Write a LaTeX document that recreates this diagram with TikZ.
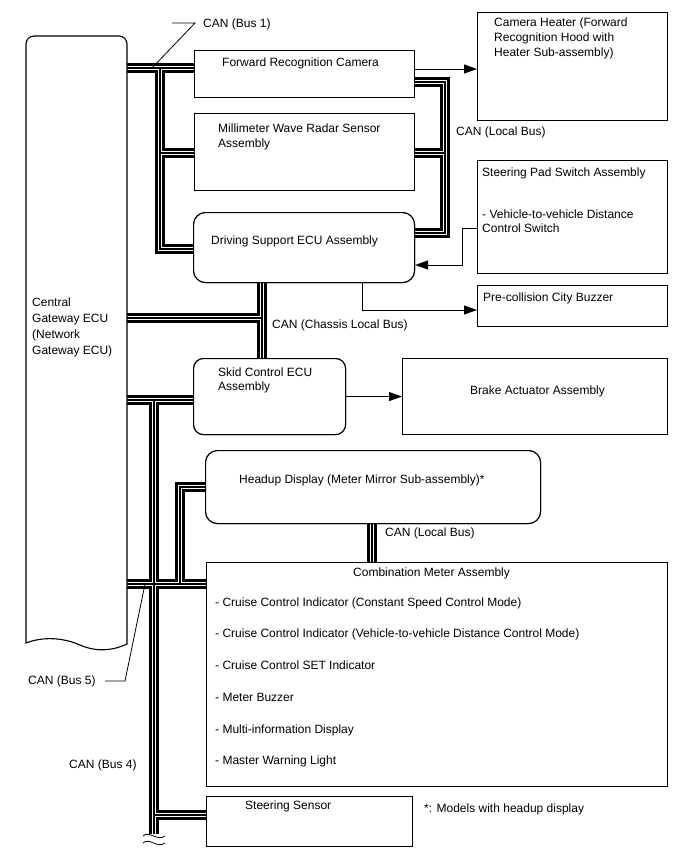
\documentclass[tikz,border=0pt]{standalone}
\usepackage{fontspec}
\setmainfont{Liberation Sans}
\usetikzlibrary{arrows.meta}
\newcommand\mylbl[4]{\node[txt] (#1) at (#2,#3) {#4};}
\begin{document}
\begin{tikzpicture}[x=1pt,y=-1pt,
  txt/.style={anchor=base west, inner sep=0pt, font=\fontsize{12}{14}\selectfont},
  box/.style={draw, line width=1.1pt, fill=white, anchor=north west, inner sep=0pt},
  rbox/.style={box, rounded corners=12pt},
  busA/.style={line width=9.5pt, black, line cap=butt},
  busB/.style={line width=4.5pt, white, line cap=butt},
  busC/.style={line width=1.2pt, black, line cap=butt},
  arr/.style={line width=0.9pt, -{Triangle[length=13pt,width=9pt]}},
  lead/.style={line width=0.8pt}]
\useasboundingbox (0,0) rectangle (688,852);
% frames for named anchors
\node[anchor=north west, minimum width=101pt, minimum height=608pt, inner sep=0pt] (gw) at (26,36) {};
\node[box, minimum width=220pt, minimum height=47pt] (fcam) at (194,50) {};
\node[box, minimum width=220pt, minimum height=77pt] (mmw) at (194,113) {};
\node[rbox, minimum width=221pt, minimum height=70pt] (dsecu) at (193,212) {};
\node[box, minimum width=190pt, minimum height=108pt] (heater) at (477,12) {};
\node[box, minimum width=190pt, minimum height=113pt] (spad) at (477,160) {};
\node[box, minimum width=190pt, minimum height=41pt] (pcb) at (477,285) {};
\node[rbox, rounded corners=10pt, minimum width=152pt, minimum height=76pt] (skid) at (193,358) {};
\node[box, minimum width=265pt, minimum height=76pt] (brake) at (402,358) {};
\node[rbox, minimum width=335pt, minimum height=73pt] (hud) at (205,450) {};
\node[box, minimum width=461pt, minimum height=224pt] (cmeter) at (206,562) {};
\node[box, minimum width=206pt, minimum height=50pt] (ssens) at (206,796) {};
% bus junction coordinates
\coordinate (b1) at (160,68);
\coordinate (b1m) at (160,153);
\coordinate (b1d) at (160,249);
\coordinate (lb) at (445,82);
\coordinate (lbm) at (445,153);
\coordinate (lbd) at (445,233);
\coordinate (cb) at (262,318);
\coordinate (b4) at (154,400);
\coordinate (b4s) at (154,815);
\coordinate (b4e) at (154,834);
\coordinate (b5) at (180,584);
\coordinate (b5h) at (180,487);
\coordinate (lb2) at (372,540);
\newcommand\buspaths{
  (gw.east |- b1) -- (fcam.west |- b1)
  (b1) -- (b1d) -- (dsecu.west |- b1d)
  (b1m) -- (mmw.west |- b1m)
  (fcam.east |- lb) -- (lb) -- (lbd) -- (dsecu.east |- lbd)
  (lbm) -- (mmw.east |- lbm)
  (dsecu.south -| cb) -- (skid.north -| cb)
  (gw.east |- cb) -- (cb)
  (gw.east |- b4) -- (skid.west |- b4)
  (b4) -- (b4e)
  (b4s) -- (ssens.west |- b4s)
  (gw.east |- b5) -- (cmeter.west |- b5)
  (b5) -- (b5h) -- (hud.west |- b5h)
  (hud.south -| lb2) -- (cmeter.north -| lb2)
}
\draw[busA] \buspaths;
\draw[busB] \buspaths;
\draw[busC] \buspaths;
% redraw boxes on top of bus ends
\node[box, minimum width=220pt, minimum height=47pt] at (194,50) {};
\node[box, minimum width=220pt, minimum height=77pt] at (194,113) {};
\node[rbox, minimum width=221pt, minimum height=70pt] at (193,212) {};
\node[rbox, rounded corners=10pt, minimum width=152pt, minimum height=76pt] at (193,358) {};
\node[rbox, minimum width=335pt, minimum height=73pt] at (205,450) {};
\node[box, minimum width=461pt, minimum height=224pt] at (206,562) {};
\node[box, minimum width=206pt, minimum height=50pt] at (206,796) {};
% gateway shape
\draw[line width=1.1pt, fill=white] (26,643) -- (26,44) .. controls (26,39.6) and (29.6,36) .. (34,36)
  -- (119,36) .. controls (123.4,36) and (127,39.6) .. (127,44) -- (127,644)
  .. controls (112,651) and (96,652) .. (80,645)
  .. controls (64,638) and (44,636) .. (26,643) -- cycle;
% bus break
\draw[line width=0.8pt] (143,836) .. controls (149,830) and (158,842) .. (165,836);
\draw[line width=0.8pt] (143,843) .. controls (149,837) and (158,849) .. (165,843);
% arrows
\coordinate (a1) at (440,69);
\draw[arr] (fcam.east |- a1) -- (heater.west |- a1);
\draw[arr] (spad.west |- 0,228) -- (462,228) -- (462,265) -- (dsecu.east |- 0,265);
\draw[arr] (dsecu.south -| 362,0) -- (362,310) -- (pcb.west |- 0,310);
\draw[arr] (skid.east) -- (brake.west);
% leaders
\draw[lead] (172,23) -- (195,23) -- (b1 -| 152,0);
\draw[lead] (105,681) -- (125,681) -- (145,584);
% texts
\mylbl{t1}{203}{27}{CAN (Bus 1)}
\mylbl{t2}{494}{26}{Camera Heater (Forward}
\mylbl{t3}{494}{41}{Recognition Hood with}
\mylbl{t4}{494}{56}{Heater Sub-assembly)}
\mylbl{t5}{222}{66}{Forward Recognition Camera}
\mylbl{t6}{218}{132}{Millimeter Wave Radar Sensor}
\mylbl{t7}{218}{147}{Assembly}
\mylbl{t8}{456}{135}{CAN (Local Bus)}
\mylbl{t9}{482}{176}{Steering Pad Switch Assembly}
\mylbl{t10}{482}{218}{- Vehicle-to-vehicle Distance}
\mylbl{t11}{482}{232}{Control Switch}
\mylbl{t12}{211}{244}{Driving Support ECU Assembly}
\mylbl{t13}{483}{301}{Pre-collision City Buzzer}
\mylbl{t14}{32}{306}{Central}
\mylbl{t15}{32}{322}{Gateway ECU}
\mylbl{t16}{32}{338}{(Network}
\mylbl{t17}{32}{354}{Gateway ECU)}
\mylbl{t18}{272}{328}{CAN (Chassis Local Bus)}
\mylbl{t19}{218}{376}{Skid Control ECU}
\mylbl{t20}{218}{390}{Assembly}
\mylbl{t21}{470}{394}{Brake Actuator Assembly}
\mylbl{t22}{239}{483}{Headup Display (Meter Mirror Sub-assembly)*}
\mylbl{t23}{385}{536}{CAN (Local Bus)}
\mylbl{t24}{353}{576}{Combination Meter Assembly}
\mylbl{t25}{215}{606}{- Cruise Control Indicator (Constant Speed Control Mode)}
\mylbl{t26}{215}{637}{- Cruise Control Indicator (Vehicle-to-vehicle Distance Control Mode)}
\mylbl{t27}{215}{669}{- Cruise Control SET Indicator}
\mylbl{t28}{215}{701}{- Meter Buzzer}
\mylbl{t29}{215}{733}{- Multi-information Display}
\mylbl{t30}{215}{764}{- Master Warning Light}
\mylbl{t31}{28}{684}{CAN (Bus 5)}
\mylbl{t32}{69}{768}{CAN (Bus 4)}
\mylbl{t33}{245}{809}{Steering Sensor}
\mylbl{t34}{424}{812}{*: Models with headup display}
\end{tikzpicture}
\end{document}
